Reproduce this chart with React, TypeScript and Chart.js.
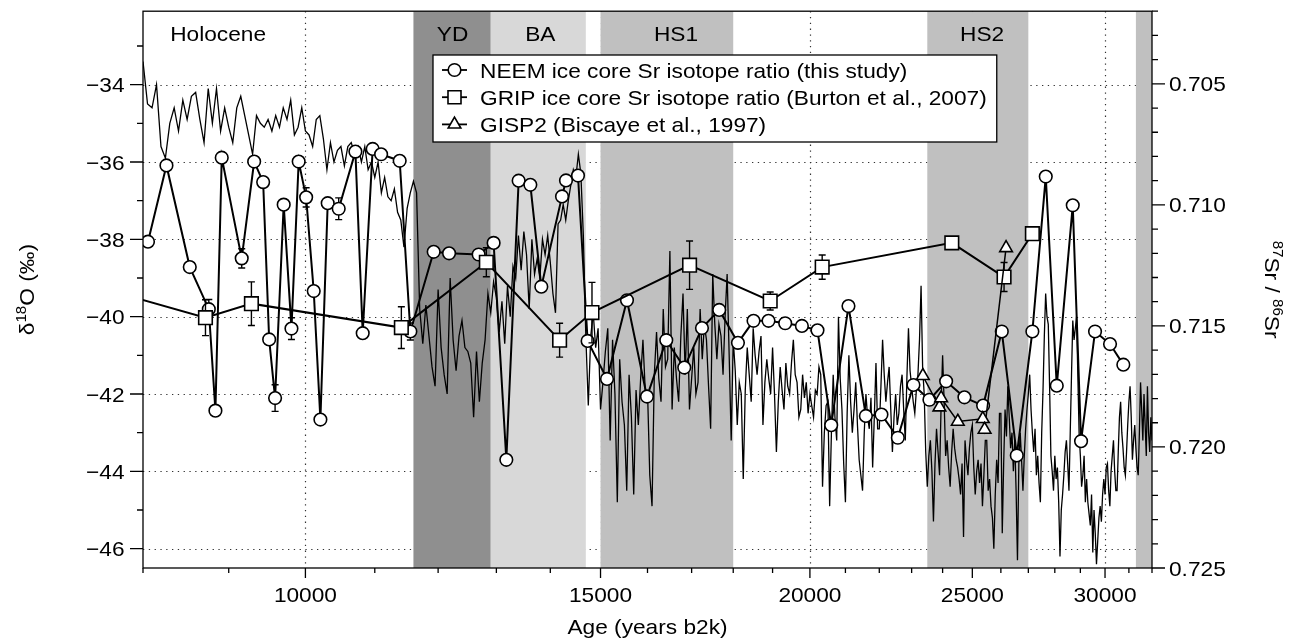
import React, { useEffect, useRef } from 'react';
import { Chart, registerables } from 'chart.js';

Chart.register(...registerables);

const FONT_FAMILY = '"Liberation Sans", Arial, Helvetica, sans-serif';
const FONT_PX = 21;
const SUP_PX = 14;
const TEXT_STRETCH = 1.08;

// Greenland ice δ18O (‰), 50-year means starting at 8000 years b2k
const D18O_START_AGE = 8000;
const D18O_STEP_YEARS = 50;
const D18O_VALUES = [
  -33.4, -34.5, -34.6, -34.0, -35.6, -35.9, -35.0, -34.6, -35.2, -34.4, // 8000
  -34.9, -34.3, -34.2, -34.9, -35.5, -34.1, -35.0, -34.1, -35.2, -34.6, // 8500
  -35.1, -35.5, -34.6, -34.3, -34.8, -35.3, -35.8, -34.8, -35.0, -35.1, // 9000
  -34.9, -35.2, -34.8, -35.1, -34.6, -34.9, -34.4, -35.3, -35.1, -34.6, // 9500
  -35.2, -35.3, -35.6, -34.9, -34.8, -35.4, -36.2, -35.5, -36.0, -35.7, // 10000
  -35.6, -36.1, -35.6, -35.5, -35.8, -35.6, -36.0, -35.6, -36.2, -36.0, // 10500
  -36.4, -36.0, -36.8, -36.4, -36.9, -37.0, -36.7, -37.3, -37.5, -38.2, // 11000
  -37.2, -36.8, -36.5, -36.8, -39.8, -40.7, -39.7, -40.5, -41.3, -41.8, // 11500
  -39.3, -40.8, -41.5, -42.0, -39.0, -40.6, -41.4, -40.5, -40.1, -40.8, // 12000
  -40.9, -41.2, -42.6, -40.9, -42.2, -41.2, -40.6, -39.4, -39.9, -39.1, // 12500
  -39.5, -40.4, -39.6, -40.7, -39.2, -40.0, -38.7, -39.0, -37.9, -38.8, // 13000
  -37.8, -38.4, -39.8, -38.0, -38.9, -38.5, -39.0, -38.0, -38.4, -37.9, // 13500
  -38.6, -39.4, -39.9, -37.6, -37.5, -37.1, -37.5, -37.0, -36.6, -36.2, // 14000
  -36.4, -35.8, -36.3, -37.9, -40.5, -42.3, -40.5, -39.9, -40.8, -40.3, // 14500
  -42.4, -41.7, -40.9, -40.3, -43.2, -40.6, -42.0, -44.8, -41.1, -42.2, // 15000
  -42.8, -44.5, -41.5, -42.6, -44.6, -41.9, -42.8, -41.6, -40.6, -41.9, // 15500
  -41.9, -44.1, -44.9, -41.5, -40.4, -41.6, -42.2, -39.8, -41.3, -41.1, // 16000
  -38.3, -42.4, -40.8, -41.6, -42.2, -40.5, -39.4, -41.5, -39.8, -42.4, // 16500
  -41.6, -40.8, -42.0, -41.7, -39.8, -41.1, -40.2, -40.6, -41.8, -42.9, // 17000
  -38.9, -40.2, -41.1, -40.2, -40.5, -41.5, -40.0, -38.9, -41.0, -43.2, // 17500
  -40.6, -41.4, -42.8, -41.7, -42.0, -44.2, -41.9, -40.8, -41.5, -42.2, // 18000
  -40.3, -41.0, -41.5, -40.9, -40.5, -42.8, -41.7, -41.1, -41.6, -42.0, // 18500
  -40.8, -42.0, -43.5, -42.2, -41.3, -41.9, -42.4, -41.2, -41.8, -42.0, // 19000
  -41.2, -40.6, -41.5, -41.7, -42.6, -42.4, -41.5, -42.1, -41.7, -42.5, // 19500
  -42.0, -42.3, -42.6, -41.9, -42.0, -41.3, -41.5, -44.4, -43.0, -42.3, // 20000
  -42.2, -44.9, -43.0, -41.5, -42.6, -43.2, -40.0, -41.6, -42.4, -43.8, // 20500
  -44.8, -42.5, -41.0, -42.2, -43.0, -42.4, -41.7, -42.8, -43.7, -44.1, // 21000
  -44.5, -43.0, -42.0, -42.6, -42.9, -42.1, -43.9, -42.6, -41.2, -42.9, // 21500
  -42.9, -41.8, -40.6, -41.5, -42.2, -41.7, -41.3, -42.4, -43.5, -42.6, // 22000
  -42.0, -42.8, -42.5, -41.8, -41.5, -42.4, -43.2, -41.6, -40.3, -41.4, // 22500
  -41.8, -42.2, -42.5, -41.9, -41.5, -40.6, -39.2, -41.3, -42.0, -43.5, // 23000
  -44.4, -43.6, -43.2, -44.0, -45.3, -43.8, -42.9, -43.5, -44.1, -42.3, // 23500
  -41.0, -42.2, -43.6, -43.2, -43.9, -44.4, -43.5, -42.9, -43.4, -43.7, // 24000
  -43.9, -44.2, -44.6, -43.8, -45.7, -43.2, -43.7, -44.1, -43.4, -43.0, // 24500
  -42.8, -43.9, -44.6, -44.0, -43.7, -44.3, -43.8, -44.9, -44.1, -43.2, // 25000
  -43.2, -44.5, -44.2, -44.9, -45.2, -46.0, -44.6, -43.7, -44.3, -42.5, // 25500
  -42.5, -45.6, -43.8, -42.4, -43.1, -41.8, -42.6, -43.4, -43.0, -44.0, // 26000
  -43.2, -44.5, -46.3, -43.8, -43.0, -43.7, -44.5, -43.6, -42.9, -42.4, // 26500
  -42.0, -41.5, -42.4, -43.0, -43.5, -42.9, -44.1, -43.6, -44.3, -44.8, // 27000
  -43.0, -41.9, -40.5, -39.4, -40.0, -40.2, -41.8, -43.6, -44.0, -44.5, // 27500
  -43.6, -44.2, -43.9, -44.8, -46.2, -45.0, -44.6, -44.1, -43.5, -43.2, // 28000
  -43.8, -44.5, -43.0, -41.5, -40.1, -40.6, -40.3, -40.0, -41.5, -43.0, // 28500
  -43.6, -44.4, -44.1, -43.6, -44.8, -44.2, -44.8, -45.1, -45.4, -44.6, // 29000
  -46.1, -45.0, -45.6, -46.4, -45.8, -45.2, -44.9, -45.3, -44.6, -44.2, // 29500
  -44.6, -43.9, -43.8, -44.5, -44.9, -44.0, -43.6, -43.2, -44.0, -44.5, // 30000
  -44.5, -43.5, -42.6, -42.2, -43.0, -43.4, -43.9, -44.1, -43.5, -42.8, // 30500
  -42.2, -41.8, -42.6, -43.7, -43.2, -42.8, -43.4, -43.9, -44.1, -43.0, // 31000
  -41.7, -42.4, -43.2, -42.0, -42.8, -43.6, -41.8, -43.0, -43.5, -42.6, // 31500
  -43.2,
];

// NEEM ice core 87Sr/86Sr (this study)
const NEEM_AGE = [
  8055, 8262, 8531, 8757, 8837, 8914, 9162, 9320, 9436, 9514,
  9592, 9706, 9810, 9908, 10010, 10115, 10208, 10311, 10468, 10711,
  10819, 10968, 11096, 11383, 11551, 11927, 12182, 12687, 12951, 13179,
  13404, 13621, 13828, 14227, 14305, 14543, 14736, 15134, 15555, 15988,
  16418, 16829, 17243, 17657, 18117, 18509, 18894, 19332, 19781, 20209,
  20593, 21088, 21598, 22066, 22568, 23057, 23569, 24116, 24730, 25373,
  26033, 26575, 27150, 27654, 28075, 28699, 29028, 29591, 30207, 30764,
];
const NEEM_SR = [
  0.71152, 0.70837, 0.71257, 0.71431, 0.7185, 0.70805, 0.71221, 0.70821, 0.70906, 0.71556,
  0.71798, 0.70999, 0.71511, 0.70821, 0.70969, 0.71356, 0.71887, 0.70993, 0.71016, 0.7078,
  0.7153, 0.70769, 0.70791, 0.70818, 0.71523, 0.71194, 0.712, 0.71205, 0.71157, 0.72053,
  0.709, 0.70917, 0.71338, 0.70965, 0.70899, 0.70879, 0.71562, 0.71719, 0.71394, 0.71792,
  0.71559, 0.71672, 0.71509, 0.71434, 0.7157, 0.71479, 0.71479, 0.71489, 0.715, 0.71518,
  0.7191, 0.71418, 0.71872, 0.71866, 0.71962, 0.71744, 0.71805, 0.71729, 0.71795, 0.71829,
  0.71523, 0.72035, 0.71523, 0.70883, 0.71747, 0.71002, 0.71976, 0.71523, 0.71575, 0.7166,
];
const NEEM_ERR = [
  0, 0, 0, 0.0004, 0, 0, 0.0004, 0, 0, 0,
  0.00055, 0, 0.00045, 0, 0.0004, 0, 0, 0, 0.00045, 0,
  0, 0, 0, 0, 0.00035, 0, 0, 0, 0, 0,
  0, 0, 0, 0, 0, 0, 0, 0, 0, 0,
  0, 0, 0, 0, 0, 0, 0, 0, 0, 0,
  0, 0, 0, 0, 0, 0, 0, 0, 0, 0,
  0, 0, 0, 0, 0, 0, 0, 0, 0, 0,
];

// GRIP ice core 87Sr/86Sr (Burton et al., 2007)
const GRIP_AGE = [7000, 8717, 9285, 11409, 12822, 14180, 14825, 16952, 18938, 20340, 24305, 26114, 27150];
const GRIP_SR = [0.7128, 0.71466, 0.71408, 0.71507, 0.71237, 0.71559, 0.71445, 0.71249, 0.71397, 0.71257, 0.71157, 0.71298, 0.71119];
const GRIP_ERR = [0, 0.00074, 0.0009, 0.00086, 0.0006, 0.0007, 0.00125, 0.001, 0.00037, 0.0005, 0, 0.0006, 0];

// GISP2 87Sr/86Sr (Biscaye et al., 1997)
const GISP2_AGE = [23357, 23895, 23951, 24506, 25362, 25425, 26186];
const GISP2_SR = [0.71706, 0.71836, 0.71798, 0.71895, 0.71884, 0.71928, 0.71178];

// climate periods shaded behind the records
const PERIOD_NAMES = ['YD', 'BA', 'HS1', 'HS2', ''];
const PERIOD_START = [11600, 12900, 15000, 23500, 31300];
const PERIOD_END = [12900, 14700, 18000, 27000, 32000];
const PERIOD_FILL = ['#8f8f8f', '#d8d8d8', '#c0c0c0', '#c0c0c0', '#c0c0c0'];
const PERIOD_LABEL_AGE = [12240, 13810, 16640, 25340, 0];
const HOLOCENE_LABEL_AGE = 8870;

const AGE_MIN = 8000;
const AGE_MAX = 32000;
const AGE_TICK_LABELS = [10000, 15000, 20000, 25000, 30000];
const D18O_MIN = -46.5;
const D18O_MAX = -32.1;
const D18O_TICK_LABELS = [-46, -44, -42, -40, -38, -36, -34];
const SR_MIN = 0.702;
const SR_MAX = 0.725;
const SR_TICK_LABELS = [0.705, 0.71, 0.715, 0.72, 0.725];

const LEGEND_LABELS = [
  'NEEM ice core Sr isotope ratio (this study)',
  'GRIP ice core Sr isotope ratio (Burton et al., 2007)',
  'GISP2 (Biscaye et al., 1997)',
];
const LEGEND_MARKERS = ['circle', 'rect', 'triangle'];

function drawText(ctx: CanvasRenderingContext2D, s: string, x: number, y: number, align: string, size = FONT_PX) {
  ctx.save();
  ctx.font = `${size}px ${FONT_FAMILY}`;
  ctx.textAlign = 'left';
  ctx.textBaseline = 'alphabetic';
  const w = ctx.measureText(s).width * TEXT_STRETCH;
  const x0 = align === 'center' ? x - w / 2 : align === 'right' ? x - w : x;
  ctx.translate(x0, y);
  ctx.scale(TEXT_STRETCH, 1);
  ctx.fillStyle = '#000';
  ctx.fillText(s, 0, 0);
  ctx.restore();
  return w;
}

function measure(ctx: CanvasRenderingContext2D, s: string, size: number) {
  ctx.save();
  ctx.font = `${size}px ${FONT_FAMILY}`;
  const w = ctx.measureText(s).width * TEXT_STRETCH;
  ctx.restore();
  return w;
}

// rotated axis title with superscript runs
function drawRichTitle(ctx: CanvasRenderingContext2D, runs: [string, boolean][], baseX: number, cy: number, angle: number) {
  const widths = runs.map(([t, sup]) => measure(ctx, t, sup ? SUP_PX : FONT_PX));
  const total = widths.reduce((s, w) => s + w, 0);
  ctx.save();
  ctx.translate(baseX, cy);
  ctx.rotate(angle);
  let u = -total / 2;
  runs.forEach(([t, sup], i) => {
    drawText(ctx, t, u, sup ? -8 : 0, 'left', sup ? SUP_PX : FONT_PX);
    u += widths[i];
  });
  ctx.restore();
}

function drawMarker(ctx: CanvasRenderingContext2D, style: string, x: number, y: number) {
  ctx.save();
  ctx.fillStyle = '#fff';
  ctx.strokeStyle = '#000';
  ctx.lineWidth = 1.6;
  ctx.beginPath();
  if (style === 'circle') {
    ctx.arc(x, y, 6.3, 0, Math.PI * 2);
  } else if (style === 'rect') {
    ctx.rect(x - 6.5, y - 6.5, 13, 13);
  } else {
    const r = 7.3;
    ctx.moveTo(x, y - r);
    ctx.lineTo(x + r * 0.866, y + r * 0.5);
    ctx.lineTo(x - r * 0.866, y + r * 0.5);
    ctx.closePath();
  }
  ctx.fill();
  ctx.stroke();
  ctx.restore();
}

function drawErrorBars(chart: any, ages: number[], values: number[], errs: number[]) {
  const { ctx, chartArea: a } = chart;
  const xs = chart.scales.x;
  const ys = chart.scales.y2;
  ctx.save();
  ctx.beginPath();
  ctx.rect(a.left, a.top, a.right - a.left, a.bottom - a.top);
  ctx.clip();
  ctx.strokeStyle = '#000';
  ctx.lineWidth = 1.4;
  ages.forEach((age, i) => {
    const e = errs[i];
    if (!e) return;
    const x = xs.getPixelForValue(age);
    const y0 = ys.getPixelForValue(values[i] - e);
    const y1 = ys.getPixelForValue(values[i] + e);
    ctx.beginPath();
    ctx.moveTo(x, y0);
    ctx.lineTo(x, y1);
    ctx.moveTo(x - 3.5, y0);
    ctx.lineTo(x + 3.5, y0);
    ctx.moveTo(x - 3.5, y1);
    ctx.lineTo(x + 3.5, y1);
    ctx.stroke();
  });
  ctx.restore();
}

const decorPlugin = {
  id: 'coreDecor',
  beforeDatasetsDraw(chart: any) {
    const { ctx, chartArea: a } = chart;
    const xs = chart.scales.x;
    const yl = chart.scales.y;
    ctx.save();
    ctx.beginPath();
    ctx.rect(a.left, a.top, a.right - a.left, a.bottom - a.top);
    ctx.clip();

    // dotted grid
    ctx.strokeStyle = '#333';
    ctx.lineWidth = 1.2;
    ctx.setLineDash([1.3, 4.5]);
    D18O_TICK_LABELS.forEach((v) => {
      const y = Math.round(yl.getPixelForValue(v)) + 0.5;
      ctx.beginPath();
      ctx.moveTo(a.left, y);
      ctx.lineTo(a.right, y);
      ctx.stroke();
    });
    AGE_TICK_LABELS.forEach((v) => {
      const x = Math.round(xs.getPixelForValue(v)) + 0.5;
      ctx.beginPath();
      ctx.moveTo(x, a.top);
      ctx.lineTo(x, a.bottom);
      ctx.stroke();
    });
    ctx.setLineDash([]);

    // shaded periods
    PERIOD_START.forEach((s, i) => {
      const x0 = xs.getPixelForValue(s);
      const x1 = xs.getPixelForValue(PERIOD_END[i]);
      ctx.fillStyle = PERIOD_FILL[i];
      ctx.fillRect(x0, a.top, x1 - x0, a.bottom - a.top);
    });

    // period names
    drawText(ctx, 'Holocene', xs.getPixelForValue(HOLOCENE_LABEL_AGE), a.top + 30, 'center');
    PERIOD_NAMES.forEach((n, i) => {
      if (n) drawText(ctx, n, xs.getPixelForValue(PERIOD_LABEL_AGE[i]), a.top + 30, 'center');
    });
    ctx.restore();
  },
  beforeDatasetDraw(chart: any, args: any) {
    if (args.index === 1) drawErrorBars(chart, NEEM_AGE, NEEM_SR, NEEM_ERR);
    if (args.index === 2) drawErrorBars(chart, GRIP_AGE, GRIP_SR, GRIP_ERR);
  },
  afterDatasetsDraw(chart: any) {
    const { ctx, chartArea: a } = chart;
    const xs = chart.scales.x;
    const yl = chart.scales.y;
    const yr = chart.scales.y2;
    ctx.save();

    // frame
    ctx.strokeStyle = '#000';
    ctx.lineWidth = 1.3;
    ctx.strokeRect(a.left, a.top, a.right - a.left, a.bottom - a.top);

    // tick marks
    ctx.beginPath();
    for (let t = AGE_MIN; t <= AGE_MAX; t += 1000) {
      const x = xs.getPixelForValue(t);
      const len = t % 5000 === 0 ? 10 : 5;
      ctx.moveTo(x, a.bottom);
      ctx.lineTo(x, a.bottom + len);
    }
    for (let v = -46; v <= -33; v++) {
      const y = yl.getPixelForValue(v);
      const len = v % 2 === 0 ? 13 : 6;
      ctx.moveTo(a.left, y);
      ctx.lineTo(a.left - len, y);
    }
    for (let k = 702; k <= 725; k++) {
      const y = yr.getPixelForValue(k / 1000);
      const len = k % 5 === 0 ? 13 : 6;
      ctx.moveTo(a.right, y);
      ctx.lineTo(a.right + len, y);
    }
    ctx.stroke();

    // tick labels
    const capHalf = FONT_PX * 0.716 / 2;
    AGE_TICK_LABELS.forEach((v) => {
      drawText(ctx, String(v), xs.getPixelForValue(v), a.bottom + 33.5, 'center');
    });
    D18O_TICK_LABELS.forEach((v) => {
      const s = (v < 0 ? '\u2212' : '') + Math.abs(v);
      drawText(ctx, s, a.left - 18.5, yl.getPixelForValue(v) + capHalf, 'right');
    });
    SR_TICK_LABELS.forEach((v) => {
      drawText(ctx, v.toFixed(3), a.right + 17, yr.getPixelForValue(v) + capHalf, 'left');
    });

    // axis titles
    drawText(ctx, 'Age (years b2k)', (a.left + a.right) / 2, a.bottom + 65.5, 'center');
    const cy = (a.top + a.bottom) / 2;
    drawRichTitle(ctx, [['\u03b4', false], ['18', true], ['O (\u2030)', false]], 34, cy, -Math.PI / 2);
    drawRichTitle(ctx, [['87', true], ['Sr', false], [' / ', false], ['86', true], ['Sr', false]], 1265, cy, Math.PI / 2);

    // legend
    const textX = 480;
    const widths = LEGEND_LABELS.map((l) => measure(ctx, l, FONT_PX));
    const boxL = 433;
    const boxT = 55;
    const boxR = textX + Math.max(...widths) + 10;
    const boxB = 142;
    ctx.fillStyle = '#fff';
    ctx.fillRect(boxL, boxT, boxR - boxL, boxB - boxT);
    ctx.strokeStyle = '#000';
    ctx.lineWidth = 1.3;
    ctx.strokeRect(boxL, boxT, boxR - boxL, boxB - boxT);
    LEGEND_LABELS.forEach((label, i) => {
      const y = boxT + 15 + i * 27.2;
      ctx.strokeStyle = '#000';
      ctx.lineWidth = 1.8;
      ctx.beginPath();
      ctx.moveTo(442, y);
      ctx.lineTo(467, y);
      ctx.stroke();
      drawMarker(ctx, LEGEND_MARKERS[i], 454.5, y);
      drawText(ctx, label, textX, y + capHalf, 'left');
    });
    ctx.restore();
  },
};

export default function App() {
  const canvasRef = useRef<HTMLCanvasElement | null>(null);

  useEffect(() => {
    document.body.style.margin = '0';
    document.body.style.overflow = 'hidden';
    const canvas = canvasRef.current;
    if (!canvas) return;

    const d18oPoints = D18O_VALUES.map((v, i) => ({ x: D18O_START_AGE + i * D18O_STEP_YEARS, y: v }));
    const neemPoints = NEEM_AGE.map((a, i) => ({ x: a, y: NEEM_SR[i] }));
    const gripPoints = GRIP_AGE.map((a, i) => ({ x: a, y: GRIP_SR[i] }));
    const gispPoints = GISP2_AGE.map((a, i) => ({ x: a, y: GISP2_SR[i] }));

    const chart = new Chart(canvas, {
      type: 'line',
      data: {
        datasets: [
          {
            label: 'δ18O',
            data: d18oPoints,
            yAxisID: 'y',
            borderColor: '#000',
            borderWidth: 1.3,
            pointRadius: 0,
            tension: 0,
            order: 3,
          },
          {
            label: LEGEND_LABELS[0],
            data: neemPoints,
            yAxisID: 'y2',
            borderColor: '#000',
            borderWidth: 2,
            pointStyle: 'circle',
            pointRadius: 6.3,
            pointBackgroundColor: '#fff',
            pointBorderColor: '#000',
            pointBorderWidth: 1.6,
            tension: 0,
            order: 2,
          },
          {
            label: LEGEND_LABELS[1],
            data: gripPoints,
            yAxisID: 'y2',
            borderColor: '#000',
            borderWidth: 2,
            pointStyle: 'rect',
            pointRadius: 9.6,
            pointBackgroundColor: '#fff',
            pointBorderColor: '#000',
            pointBorderWidth: 1.6,
            tension: 0,
            order: 1,
          },
          {
            label: LEGEND_LABELS[2],
            data: gispPoints,
            yAxisID: 'y2',
            borderColor: '#000',
            borderWidth: 1.5,
            pointStyle: 'triangle',
            pointRadius: 7.3,
            pointBackgroundColor: '#fff',
            pointBorderColor: '#000',
            pointBorderWidth: 1.6,
            tension: 0,
            order: 0,
          },
        ],
      },
      options: {
        animation: false,
        responsive: true,
        maintainAspectRatio: false,
        events: [],
        layout: { padding: { top: 9, left: 0, right: 0, bottom: 0 } },
        plugins: { legend: { display: false }, tooltip: { enabled: false } },
        scales: {
          x: {
            type: 'logarithmic',
            min: AGE_MIN,
            max: AGE_MAX,
            grid: { display: false },
            border: { display: false },
            ticks: { display: false },
            afterFit: (s: any) => { s.height = 75; },
          },
          y: {
            type: 'linear',
            position: 'left',
            min: D18O_MIN,
            max: D18O_MAX,
            grid: { display: false },
            border: { display: false },
            ticks: { display: false },
            afterFit: (s: any) => { s.width = 143; },
          },
          y2: {
            type: 'linear',
            position: 'right',
            reverse: true,
            min: SR_MIN,
            max: SR_MAX,
            grid: { display: false },
            border: { display: false },
            ticks: { display: false },
            afterFit: (s: any) => { s.width = 151; },
          },
        },
      },
      plugins: [decorPlugin],
    } as any);

    return () => chart.destroy();
  }, []);

  return (
    <div style={{ position: 'absolute', left: 0, top: 0, width: 1303, height: 643 }}>
      <canvas ref={canvasRef} />
    </div>
  );
}
